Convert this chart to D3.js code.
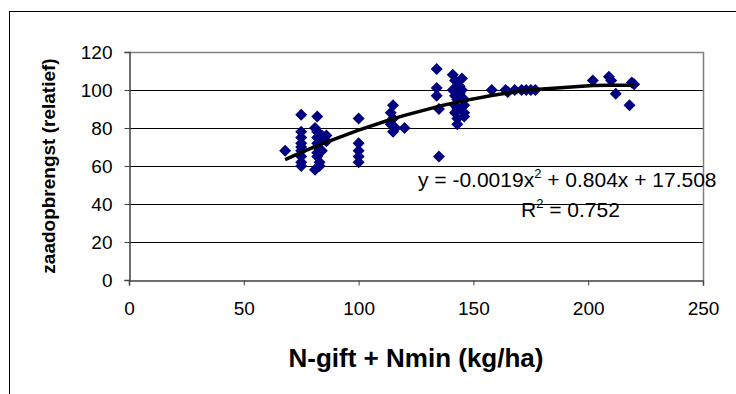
<!DOCTYPE html>
<html>
<head>
<meta charset="utf-8">
<script src="https://cdn.jsdelivr.net/npm/d3@7"></script>
<style>
  body { margin: 0; background: #fff; }
  svg { display: block; font-family: "Liberation Sans", Arial, sans-serif; }
</style>
</head>
<body>
<svg id="chart" width="736" height="394"></svg>
<script>
// N-gift + Nmin (kg/ha) and relative seed yield per plot
const nTotal = [
  68,
  75, 75, 75, 75, 75, 75, 75, 75, 75,
  81, 81, 82, 82, 82, 82, 82, 82, 82, 83, 83,
  84, 84, 85, 86, 86,
  100, 100, 100, 100, 100,
  114, 114, 115, 115, 115, 116, 120,
  134, 134, 134, 135, 135,
  141, 141, 142, 142, 142, 142, 143, 143, 143, 143, 144, 144,
  145, 145, 146, 146, 146, 146,
  158, 164, 165, 168, 171, 173, 175, 177,
  202, 209, 210, 212, 218, 219, 220
];
const yieldRel = [
  68,
  87, 78, 75, 70, 65, 62, 60, 68, 72,
  58, 80, 86, 78, 75, 72, 70, 67, 65, 60, 62,
  76, 68, 74, 76, 73,
  85, 72, 68, 65, 62,
  88, 82, 92, 85, 78, 80, 80,
  111, 101, 97, 90, 65,
  108, 100, 105, 97, 92, 88, 95, 90, 85, 82, 102, 98,
  106, 100, 95, 92, 88, 86,
  100, 100, 99, 100, 100, 100, 100, 100,
  105, 107, 105, 98, 92, 104, 103
];
const xTicks = [0, 50, 100, 150, 200, 250];
const yTicks = [0, 20, 40, 60, 80, 100, 120];
// polynomial trendline shown on the chart
const coefA = -0.0019, coefB = 0.804, coefC = 17.508;
const rSquared = "0.752";

const svg = d3.select("#chart");
const plotL = 129, plotR = 703, plotT = 52, plotB = 280;

// outer chart frame
svg.append("rect")
  .attr("x", 9.5).attr("y", 11.5)
  .attr("width", 800).attr("height", 500)
  .attr("fill", "none").attr("stroke", "#000");

const x = d3.scaleLinear().domain([0, 250]).range([plotL, plotR]);
const y = d3.scaleLinear().domain([0, 120]).range([plotB, plotT]);

// gridlines
svg.append("g")
  .selectAll("line")
  .data(yTicks.filter(d => d > 0 && d < 120))
  .enter().append("line")
  .attr("x1", plotL).attr("x2", plotR)
  .attr("y1", d => Math.round(y(d)) + 0.5)
  .attr("y2", d => Math.round(y(d)) + 0.5)
  .attr("stroke", "#000");

// plot border top/right
svg.append("path")
  .attr("d", `M${plotL},${plotT + 0.5}H${plotR + 0.5}V${plotB}`)
  .attr("fill", "none").attr("stroke", "#808080").attr("stroke-width", 1.5);

// axes
const xAxis = svg.append("g")
  .attr("transform", `translate(0,${plotB + 0.5})`)
  .call(d3.axisBottom(x).tickValues(xTicks).tickSize(5).tickPadding(16));
const yAxis = svg.append("g")
  .attr("transform", `translate(${plotL + 0.5},0)`)
  .call(d3.axisLeft(y).tickValues(yTicks).tickSize(5).tickPadding(12));

[xAxis, yAxis].forEach(g => {
  g.select(".domain").attr("stroke", "#404040").attr("stroke-width", 1.5);
  g.selectAll(".tick line").attr("stroke", "#404040");
  g.selectAll(".tick text")
    .attr("font-size", 19)
    .attr("font-family", "Liberation Sans, Arial, sans-serif")
    .attr("fill", "#000");
});

// points
const points = nTotal.map((d, i) => ({ n: d, v: yieldRel[i] }));
const diamond = d3.symbol().type(d3.symbolSquare).size(72);
svg.append("g")
  .selectAll("path")
  .data(points)
  .enter().append("path")
  .attr("d", diamond)
  .attr("transform", d => `translate(${x(d.n)},${y(d.v)}) rotate(45)`)
  .attr("fill", "#000080");

// trendline, evaluated at the observed x values like the spreadsheet does
const trendX = Array.from(new Set(nTotal)).sort((a, b) => a - b);
const line = d3.line()
  .x(d => x(d))
  .y(d => y(coefA * d * d + coefB * d + coefC));
svg.append("path")
  .datum(trendX)
  .attr("d", line)
  .attr("fill", "none")
  .attr("stroke", "#000")
  .attr("stroke-width", 3.5);

// equation label
const eq = svg.append("text")
  .attr("x", 418).attr("y", 187)
  .attr("font-size", 21);
eq.append("tspan").text("y = " + coefA + "x");
eq.append("tspan").attr("font-size", 13).attr("dy", -9).text("2");
eq.append("tspan").attr("dy", 9).text(" + " + coefB + "x + " + coefC);

const r2 = svg.append("text")
  .attr("x", 521).attr("y", 217)
  .attr("font-size", 21);
r2.append("tspan").text("R");
r2.append("tspan").attr("font-size", 13).attr("dy", -9).text("2");
r2.append("tspan").attr("dy", 9).text(" = " + rSquared);

// axis titles
svg.append("text")
  .attr("x", 416).attr("y", 367)
  .attr("text-anchor", "middle")
  .attr("font-size", 26).attr("font-weight", "bold")
  .text("N-gift + Nmin (kg/ha)");

svg.append("text")
  .attr("transform", `translate(55,${(plotT + plotB) / 2}) rotate(-90)`)
  .attr("text-anchor", "middle")
  .attr("font-size", 19).attr("font-weight", "bold")
  .text("zaadopbrengst (relatief)");
</script>
</body>
</html>
